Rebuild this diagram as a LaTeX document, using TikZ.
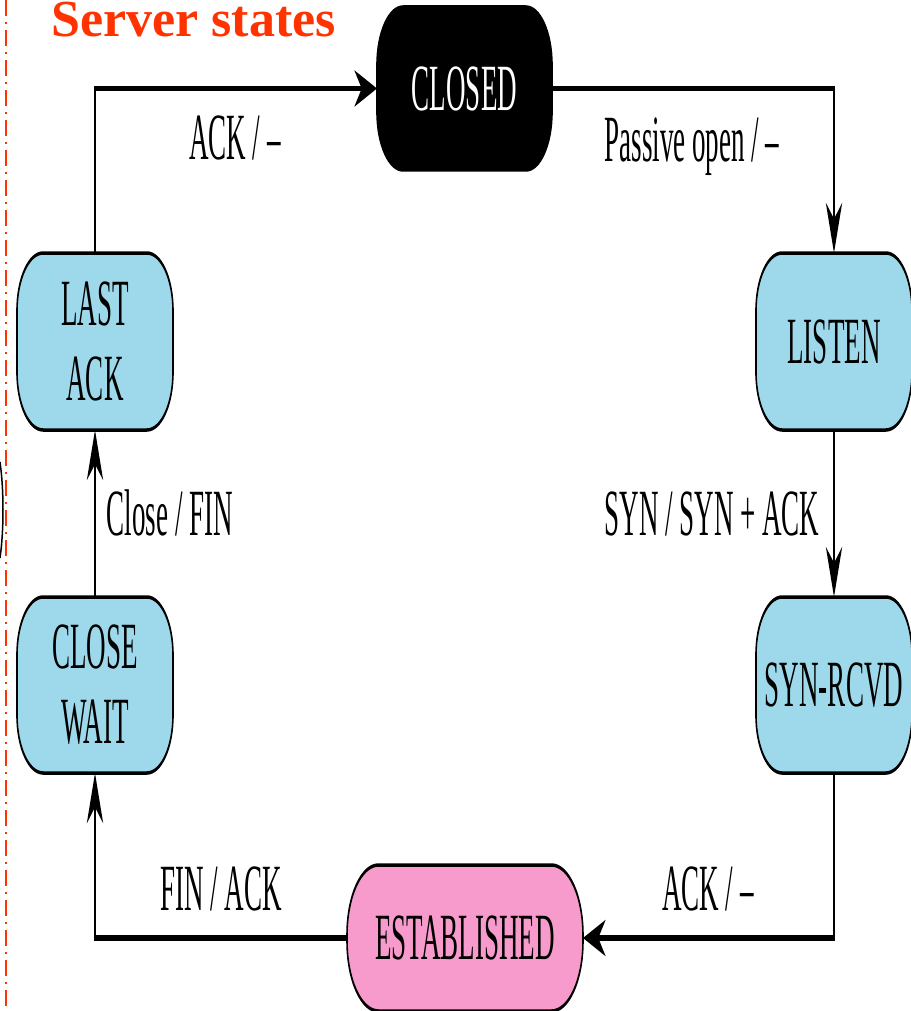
\documentclass[tikz,border=0pt]{standalone}
\usepackage{fontspec}
\setmainfont{Liberation Serif}[FakeStretch=0.91]
\newfontfamily\titlefont{Liberation Serif}
\usetikzlibrary{arrows.meta}
\definecolor{statefill}{RGB}{157,217,234}
\definecolor{estfill}{RGB}{247,155,205}
\definecolor{titlered}{RGB}{255,51,0}
\begin{document}
\begin{tikzpicture}[x=1pt,y=1pt]
\useasboundingbox[fill=white] (0,0) rectangle (910,-1011);
% margin rule and title
\draw[titlered, line width=1.5pt, dash pattern=on 16pt off 6pt on 2pt off 6pt] (6,0) -- (6,-1011);
\draw[line width=1.5pt] (0,-462) .. controls (4,-490) and (4,-530) .. (0,-558);
\node[titlered, anchor=base west, inner sep=0pt, font=\titlefont\bfseries\fontsize{52}{56}\selectfont] (title) at (51,-37) {Server states};
% state machine, drawn on a horizontally condensed canvas
\begin{scope}[transform canvas={xscale=0.45}, x=2.2222pt, y=1pt,
  stbox/.style={draw=black, line width=3.5pt, rectangle, rounded corners=58pt,
    inner sep=0pt, outer sep=0pt, fill=statefill, align=center,
    font=\fontsize{66}{75}\selectfont, minimum width=346.7pt, minimum height=177pt},
  lbl/.style={anchor=base, inner sep=0pt, font=\fontsize{66}{75}\selectfont},
  link/.style={line width=5.5pt, -{Stealth[length=50pt,width=36pt,inset=16pt]}}]
  \node[stbox, fill=black, text=white, minimum width=388.9pt, minimum height=163pt] (closed) at (464.5,-88.5) {CLOSED};
  \node[stbox] (listen) at (834,-341.5) {LISTEN};
  \node[stbox, minimum height=176pt] (synrcvd) at (834,-685) {SYN-RCVD};
  \node[stbox, fill=estfill, minimum width=524.4pt, minimum height=146pt, rounded corners=70pt] (est) at (465,-938) {ESTABLISHED};
  \node[stbox, minimum height=176pt] (closewait) at (95,-685) {CLOSE\\WAIT};
  \node[stbox] (lastack) at (95,-341.5) {LAST\\ACK};

  \draw[link] (lastack.north) |- (closed.west);
  \draw[link] (closed.east) -| (listen.north);
  \draw[link] (listen.south) -- (synrcvd.north);
  \draw[link] (synrcvd.south) |- (est.east);
  \draw[link] (est.west) -| (closewait.south);
  \draw[link] (closewait.north) -- (lastack.south);

  \node[lbl] (l1) at (235,-160) {ACK / –};
  \node[lbl] (l2) at (692,-162) {Passive open / –};
  \node[lbl] (l3) at (712,-535) {SYN / SYN + ACK};
  \node[lbl] (l4) at (170,-535) {Close / FIN};
  \node[lbl] (l5) at (221,-910) {FIN / ACK};
  \node[lbl] (l6) at (708,-910) {ACK / –};
\end{scope}
\end{tikzpicture}
\end{document}
